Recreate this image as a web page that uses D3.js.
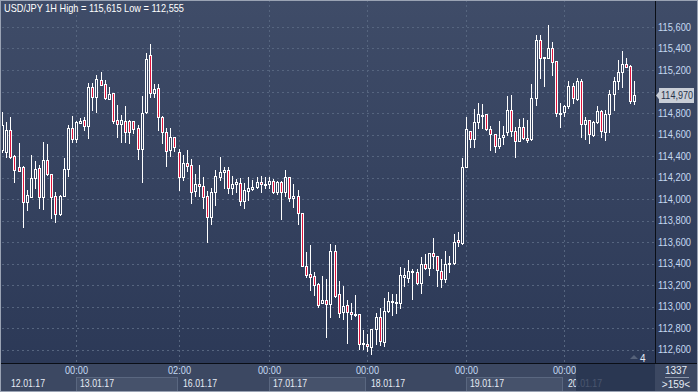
<!DOCTYPE html>
<html><head><meta charset="utf-8">
<script src="https://cdn.jsdelivr.net/npm/d3@7"></script>
<style>html,body{margin:0;padding:0;background:#2e3b58;}svg{display:block;}</style>
</head><body><svg id="chart" width="698" height="392"></svg>
<script>
// ---------- data ----------
const title = "USD/JPY 1H High = 115,615 Low = 112,555";
const open = [
114456,114440,114642,114403,114298,114300,113975,114023,114192,114288,
114021,114363,114230,114028,113860,114031,114276,114658,114558,114710,
114735,114682,115039,114946,115107,115070,114933,114983,114739,114698,
114730,114725,114725,114658,114462,114806,115339,114983,115030,114765,
114620,114456,114574,114434,114207,114338,114316,114077,114139,114118,
114025,113830,114062,114207,114248,114270,114099,114139,114149,113984,
114077,114093,114114,114161,114133,114137,114167,114068,114161,114068,
114202,114006,114031,113867,113380,113300,113286,113209,113030,113060,
113020,113516,113116,112946,113014,112946,112921,112930,112648,112648,
112620,112788,112899,112673,112961,113039,113030,113030,113277,113268,
113318,113318,113221,113395,113361,113495,113470,113333,113256,113392,
113402,113619,113593,114300,114632,114555,114713,114777,114788,114648,
114602,114496,114574,114626,114828,114632,114539,114667,114565,114558,
114937,115479,115309,115309,115402,115284,114791,114806,114865,115051,
114930,115098,114695,114735,114595,114719,114818,114626,114788,114977,
115100,115179,115256,115237,114914];
const high = [
114809,114719,114760,114405,114521,114307,114084,114409,114356,114316,
114530,114507,114233,114065,114037,114386,114688,114772,114725,114756,
114760,115076,115079,115153,115181,115107,115039,114986,114874,114781,
114865,114735,114730,114688,114958,115361,115442,115067,115070,114772,
114658,114658,114577,114465,114409,114456,114372,114233,114316,114202,
114074,114099,114270,114393,114295,114295,114217,114183,114192,114146,
114207,114177,114202,114214,114202,114207,114183,114167,114163,114270,
114205,114137,114084,113873,113504,113572,113324,113214,113286,113256,
113581,113572,113237,113191,113060,113030,113107,112933,112781,112744,
112795,112937,112983,113076,113132,113113,113116,113365,113358,113433,
113346,113346,113463,113488,113498,113634,113473,113442,113516,113473,
113674,113696,114379,114760,114637,114837,114890,114884,114791,114679,
114609,114725,114679,114958,114967,114672,114741,114756,114735,115070,
115525,115525,115321,115615,115463,115288,114890,114870,115098,115076,
115123,115113,114760,114739,114725,114865,114828,114828,115014,115138,
115293,115377,115309,115247,115098];
const low = [
114437,114393,114381,114161,114260,113742,113898,114018,114099,113913,
113907,114223,113820,113789,113851,114028,114214,114533,114533,114707,
114642,114570,114832,114805,115060,114930,114930,114704,114579,114530,
114530,114518,114617,114372,114161,114800,114952,114946,114642,114524,
114307,114400,114449,114084,114177,114263,113966,114031,114031,113919,
113603,113765,113944,114177,114099,114058,114046,114068,113944,113919,
113991,114084,114099,114068,114099,114099,114053,114046,113814,114028,
113984,113923,113765,113377,113277,113153,113107,112993,113028,112719,
112905,113088,112905,112881,112663,112884,112914,112602,112602,112586,
112555,112648,112642,112635,112952,112921,112942,112989,113194,113231,
113070,113206,113128,113346,113293,113355,113194,113179,113225,113324,
113400,113566,113581,114298,114486,114486,114658,114658,114642,114456,
114440,114472,114512,114595,114586,114393,114535,114558,114533,114549,
114874,115123,115054,115307,115153,114775,114667,114775,114844,114890,
114921,114579,114558,114524,114588,114704,114574,114549,114626,114828,
115023,115044,115228,114890,114884];
const close = [
114688,114642,114393,114270,114265,113975,114037,114192,114279,114021,
114363,114230,114021,113865,114028,114279,114658,114555,114713,114725,
114679,115039,114946,115116,115065,114939,114977,114728,114695,114732,
114626,114626,114651,114462,114797,115302,114983,115020,114760,114620,
114449,114574,114481,114207,114332,114310,114068,114139,114118,114016,
113830,114062,114214,114248,114270,114099,114139,114155,113984,114084,
114099,114109,114161,114137,114139,114167,114068,114161,114068,114202,
114006,114031,113867,113380,113293,113277,113200,113014,113060,113020,
113516,113098,112937,113005,112946,112927,112927,112648,112658,112637,
112791,112899,112679,112958,113051,113051,113039,113293,113293,113330,
113330,113216,113395,113355,113495,113470,113339,113253,113395,113402,
113603,113597,114300,114648,114555,114713,114788,114786,114648,114602,
114496,114565,114595,114828,114632,114539,114667,114565,114546,114937,
115479,115309,115318,115402,115277,114797,114797,114865,115051,114937,
115098,114695,114735,114602,114713,114818,114632,114788,114977,115098,
115179,115256,115231,114914,114970];
const yTicks = [112600,112800,113000,113200,113400,113600,113800,114000,114200,114400,114600,114800,115000,115200,115400,115600];
const timeTickIndex = [18, 43, 65, 89, 113, 137];
const timeTickLabels = ["00:00","02:00","00:00","00:00","00:00","00:00"];
const dateStartIndex = [0, 18, 43, 65, 89, 113, 137];
const dateLabels = ["12.01.17","13.01.17","16.01.17","17.01.17","18.01.17","19.01.17","20.01.17"];
const lastPrice = 114970;
const totalBars = "1337";
const visibleBars = ">159<";
const markerCount = "4";

// ---------- layout ----------
const W = 698, H = 392;
const plotL = 2, plotR = 655, plotT = 0, plotB = 363;
const FONT = "'Liberation Sans', Arial, sans-serif";
const svg = d3.select("#chart");
const fmt3 = v => { const s = v.toString(); return s.slice(0, 3) + "," + s.slice(3); };

const x = d3.scaleLinear().domain([0, 158]).range([2.3, 650.7]);
const y = d3.scaleLinear().domain([112600, 115600]).range([349.5, 27]);
const px = i => Math.floor(x(i) + 0.3);

const defs = svg.append("defs");
const g = defs.append("linearGradient").attr("id", "bg").attr("gradientUnits", "userSpaceOnUse")
  .attr("x1", 0).attr("y1", 0).attr("x2", 0).attr("y2", plotB);
g.append("stop").attr("offset", 0).attr("stop-color", "#3f4c68");
g.append("stop").attr("offset", 1).attr("stop-color", "#2c3957");
defs.append("clipPath").attr("id", "clip").append("rect")
  .attr("x", plotL).attr("y", plotT).attr("width", plotR - plotL).attr("height", plotB - plotT);

// backgrounds
svg.append("rect").attr("x", 0).attr("y", 0).attr("width", W).attr("height", plotB).attr("fill", "url(#bg)");
svg.append("rect").attr("x", 0).attr("y", plotB).attr("width", W).attr("height", H - plotB).attr("fill", "#3c4862");

// grid
const grid = svg.append("g").attr("stroke", "#56657f").attr("stroke-width", 1).attr("stroke-dasharray", "2,3");
grid.selectAll(".hg").data(yTicks).join("line")
  .attr("x1", plotL).attr("x2", plotR - 1)
  .attr("y1", d => Math.round(y(d)) + 0.5).attr("y2", d => Math.round(y(d)) + 0.5);
grid.selectAll(".vg").data(timeTickIndex).join("line")
  .attr("x1", d => px(d) + 0.5).attr("x2", d => px(d) + 0.5)
  .attr("y1", plotT).attr("y2", plotB);

// candles
const idx = d3.range(open.length);
const cg = svg.append("g").attr("clip-path", "url(#clip)");
cg.selectAll(".wick").data(idx).join("line")
  .attr("x1", i => px(i) + 0.5).attr("x2", i => px(i) + 0.5)
  .attr("y1", i => Math.round(y(high[i]))).attr("y2", i => Math.round(y(low[i])) + 1)
  .attr("stroke", "#ffffff").attr("stroke-width", 1);
cg.selectAll(".body").data(idx).join("rect")
  .attr("x", i => px(i) - 0.5)
  .attr("width", 2)
  .attr("y", i => Math.round(y(Math.max(open[i], close[i]))) + 0.5)
  .attr("height", i => Math.max(1, Math.round(y(Math.min(open[i], close[i]))) - Math.round(y(Math.max(open[i], close[i])))))
  .attr("fill", i => close[i] < open[i] ? "#e0143c" : "url(#bg)")
  .attr("stroke", "#ffffff").attr("stroke-width", 1);

// axis separators
svg.append("line").attr("x1", plotR + 0.5).attr("x2", plotR + 0.5).attr("y1", 0).attr("y2", plotB).attr("stroke", "#0a0e16");
svg.append("line").attr("x1", 0).attr("x2", W).attr("y1", plotB + 0.5).attr("y2", plotB + 0.5).attr("stroke", "#0a0e16");

// right axis labels (the one under the last-price marker is hidden, as in the original)
const ly = Math.round(y(lastPrice));
svg.append("g").selectAll("text").data(yTicks.filter(d => Math.abs(y(d) - ly) > 11)).join("text")
  .attr("x", 658).attr("y", d => y(d)).attr("dy", "0.36em")
  .attr("font-family", FONT).attr("font-size", 10).attr("fill", "#c5d9f2")
  .attr("textLength", 33).attr("lengthAdjust", "spacingAndGlyphs")
  .text(d => fmt3(d));

// last price marker
const lp = svg.append("g");
lp.append("path").attr("d", `M${656},${ly + 0.5} L${660},${ly - 4.5} L${660},${ly + 5.5} Z`).attr("fill", "#c9ced7");
lp.append("rect").attr("x", 659).attr("y", ly - 7).attr("width", 35).attr("height", 15).attr("fill", "#c9ced7");
lp.append("text").attr("x", 661).attr("y", ly).attr("dy", "0.36em")
  .attr("font-family", FONT).attr("font-size", 10).attr("fill", "#26324a")
  .attr("textLength", 32).attr("lengthAdjust", "spacingAndGlyphs").text(fmt3(lastPrice));

// bottom axis: date boxes
const dateEnds = dateStartIndex.slice(1).map(px).concat([plotR]);
const dg = svg.append("g");
dateStartIndex.forEach((s, k) => {
  const x0 = k === 0 ? plotL : px(s);
  if (k % 2 === 1) {
    dg.append("rect").attr("x", x0 + 0.5).attr("y", 377.5).attr("width", dateEnds[k] - x0 - 2).attr("height", 16)
      .attr("fill", "#46526b").attr("stroke", "#5a6780");
  }
  dg.append("text").attr("x", k === 0 ? 11 : x0 + 4).attr("y", 386.5)
    .attr("font-family", FONT).attr("font-size", 10).attr("fill", "#e6ecf5")
    .attr("textLength", 34).attr("lengthAdjust", "spacingAndGlyphs").text(dateLabels[k]);
});
svg.append("g").selectAll("text").data(timeTickIndex).join("text")
  .attr("x", d => px(d) + 0.5).attr("y", 374).attr("text-anchor", "middle")
  .attr("font-family", FONT).attr("font-size", 10).attr("fill", "#c5d9f2")
  .attr("textLength", 23).attr("lengthAdjust", "spacingAndGlyphs")
  .text((d, k) => timeTickLabels[k]);
// dark overlay on the future area
svg.append("rect").attr("x", 576).attr("y", plotB + 1).attr("width", plotR - 576).attr("height", H - plotB - 2)
  .attr("fill", "#26334f").attr("opacity", 0.82);

// marker count
svg.append("path").attr("d", "M630,359 L634,355 L638,359 Z").attr("fill", "#56627a");
svg.append("text").attr("x", 640).attr("y", 362).attr("font-family", FONT).attr("font-size", 10)
  .attr("fill", "#e6ecf5").text(markerCount);

// bottom-right info box
svg.append("text").attr("x", 676).attr("y", 374).attr("text-anchor", "middle")
  .attr("font-family", FONT).attr("font-size", 10).attr("fill", "#e6ecf5").text(totalBars);
svg.append("line").attr("x1", 665).attr("x2", 689).attr("y1", 377.5).attr("y2", 377.5).attr("stroke", "#8c96a8");
svg.append("text").attr("x", 676).attr("y", 388).attr("text-anchor", "middle")
  .attr("font-family", FONT).attr("font-size", 10).attr("fill", "#e6ecf5").text(visibleBars);

// title
svg.append("text").attr("x", 4).attr("y", 12).attr("font-family", FONT).attr("font-size", 11)
  .attr("fill", "#ffffff").attr("textLength", 180).attr("lengthAdjust", "spacingAndGlyphs").text(title);

// outer frame
svg.append("rect").attr("x", 0.5).attr("y", 0.5).attr("width", W - 1).attr("height", H - 1)
  .attr("fill", "none").attr("stroke", "#9aa3b4");
</script></body></html>
